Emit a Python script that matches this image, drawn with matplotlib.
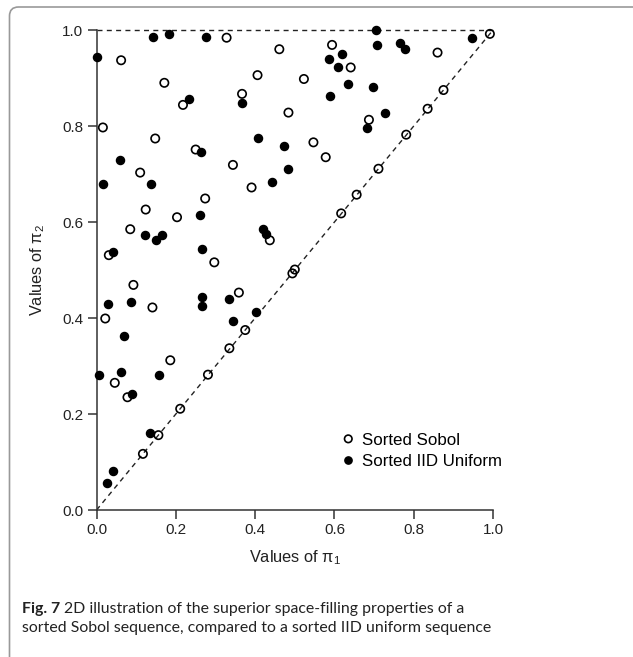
import matplotlib
matplotlib.use('Agg')
import matplotlib.pyplot as plt
from matplotlib.patches import FancyBboxPatch
from matplotlib.transforms import IdentityTransform

plt.rcParams['font.family'] = ['Liberation Sans', 'DejaVu Sans']
plt.rcParams['mathtext.default'] = 'regular'

# sorted Sobol points (open circles)
sobol_x = [0.992, 0.328, 0.461, 0.594, 0.641, 0.860, 0.062, 0.171, 0.218, 0.367,
           0.406, 0.523, 0.484, 0.875, 0.835, 0.781, 0.711, 0.656, 0.617, 0.687,
           0.016, 0.148, 0.250, 0.547, 0.578, 0.344, 0.110, 0.391, 0.274, 0.124,
           0.203, 0.085, 0.031, 0.297, 0.437, 0.494, 0.500, 0.093, 0.022, 0.141,
           0.359, 0.375, 0.335, 0.186, 0.281, 0.046, 0.078, 0.211, 0.156, 0.117]
sobol_y = [0.992, 0.984, 0.960, 0.969, 0.922, 0.953, 0.937, 0.890, 0.844, 0.867,
           0.906, 0.898, 0.828, 0.875, 0.836, 0.782, 0.711, 0.657, 0.618, 0.813,
           0.797, 0.774, 0.751, 0.766, 0.735, 0.719, 0.703, 0.672, 0.649, 0.626,
           0.610, 0.585, 0.531, 0.516, 0.562, 0.493, 0.501, 0.469, 0.399, 0.422,
           0.453, 0.375, 0.337, 0.312, 0.282, 0.265, 0.235, 0.211, 0.156, 0.117]

# sorted IID uniform points (filled circles)
iid_x = [0.001, 0.143, 0.182, 0.277, 0.706, 0.707, 0.765, 0.778, 0.948, 0.587,
         0.618, 0.609, 0.633, 0.590, 0.697, 0.727, 0.682, 0.234, 0.368, 0.407,
         0.474, 0.484, 0.442, 0.264, 0.059, 0.016, 0.138, 0.260, 0.042, 0.123,
         0.151, 0.166, 0.265, 0.419, 0.427, 0.028, 0.088, 0.266, 0.266, 0.335,
         0.345, 0.402, 0.070, 0.005, 0.061, 0.158, 0.090, 0.136, 0.041, 0.027]
iid_y = [0.943, 0.985, 0.992, 0.985, 1.000, 0.969, 0.973, 0.960, 0.983, 0.940,
         0.951, 0.922, 0.888, 0.862, 0.881, 0.828, 0.795, 0.856, 0.849, 0.775,
         0.759, 0.710, 0.684, 0.745, 0.729, 0.680, 0.679, 0.615, 0.538, 0.573,
         0.562, 0.573, 0.544, 0.585, 0.576, 0.430, 0.434, 0.444, 0.425, 0.440,
         0.394, 0.412, 0.362, 0.281, 0.288, 0.281, 0.241, 0.160, 0.081, 0.056]

ticks = [0.0, 0.2, 0.4, 0.6, 0.8, 1.0]
ref = [0, 1]

fig = plt.figure(figsize=(6.33, 6.57), dpi=100)

# grey rounded frame around figure + caption
frame = FancyBboxPatch((9.5, -30), 700, 680, boxstyle='round,pad=0,rounding_size=9',
                       transform=IdentityTransform(), fc='none', ec='#999999', lw=1.2)
fig.add_artist(frame)

ax = fig.add_axes([0.1525, 0.2237, 0.6264, 0.7306])
spine_c = '#333333'

ax.plot(ref, ref, color='#222222', lw=1.0, ls=(0, (3.6, 3.1)), zorder=1)
ax.plot(ref, [1, 1], color='#222222', lw=1.0, ls=(0, (3.6, 3.1)), zorder=1, clip_on=False)

ax.scatter(sobol_x, sobol_y, s=36, facecolors='none', edgecolors='black', linewidths=1.2,
           label='Sorted Sobol', zorder=3, clip_on=False)
ax.scatter(iid_x, iid_y, s=34, color='black', label='Sorted IID Uniform',
           zorder=3, clip_on=False)

ax.set_xlim(0, 1)
ax.set_ylim(0, 1)
ax.set_xticks(ticks)
ax.set_yticks(ticks)
ax.set_xticklabels(['%.1f' % t for t in ticks])
ax.set_yticklabels(['%.1f' % t for t in ticks])
for s in ['top', 'right']:
    ax.spines[s].set_visible(False)
for s in ['left', 'bottom']:
    ax.spines[s].set_color(spine_c)
    ax.spines[s].set_linewidth(1.1)
ax.tick_params(direction='out', length=6.5, width=1.1, color=spine_c,
               labelsize=11, pad=3, labelcolor='#222222')

ax.set_xlabel('Values of π$_1$', fontsize=11.8, color='#222222', labelpad=8)
ax.set_ylabel('Values of π$_2$', fontsize=11.8, color='#222222', labelpad=11)

ax.legend(loc='center left', bbox_to_anchor=(0.59, 0.123), frameon=False,
          fontsize=12.2, handletextpad=0.25, labelspacing=0.38, borderpad=0,
          handlelength=1.1, scatteryoffsets=[0.5], markerscale=0.9)

# caption
cap_y1 = (657 - 613) / 657
cap_y2 = (657 - 632) / 657
cap_x = 22 / 633
cap_font = ['Lato', 'DejaVu Sans']
cap_size = 11.4
t1 = fig.text(cap_x, cap_y1, 'Fig. 7', fontsize=cap_size, fontweight='bold',
              family=cap_font, color='#222222', va='baseline')
fig.canvas.draw()
bb = t1.get_window_extent(fig.canvas.get_renderer())
fig.text(bb.x1 / 633 + 4 / 633, cap_y1,
         '2D illustration of the superior space-filling properties of a',
         fontsize=cap_size, family=cap_font, color='#222222', va='baseline')
fig.text(cap_x, cap_y2,
         'sorted Sobol sequence, compared to a sorted IID uniform sequence',
         fontsize=cap_size, family=cap_font, color='#222222', va='baseline')

fig.savefig('out.png', dpi=100)
